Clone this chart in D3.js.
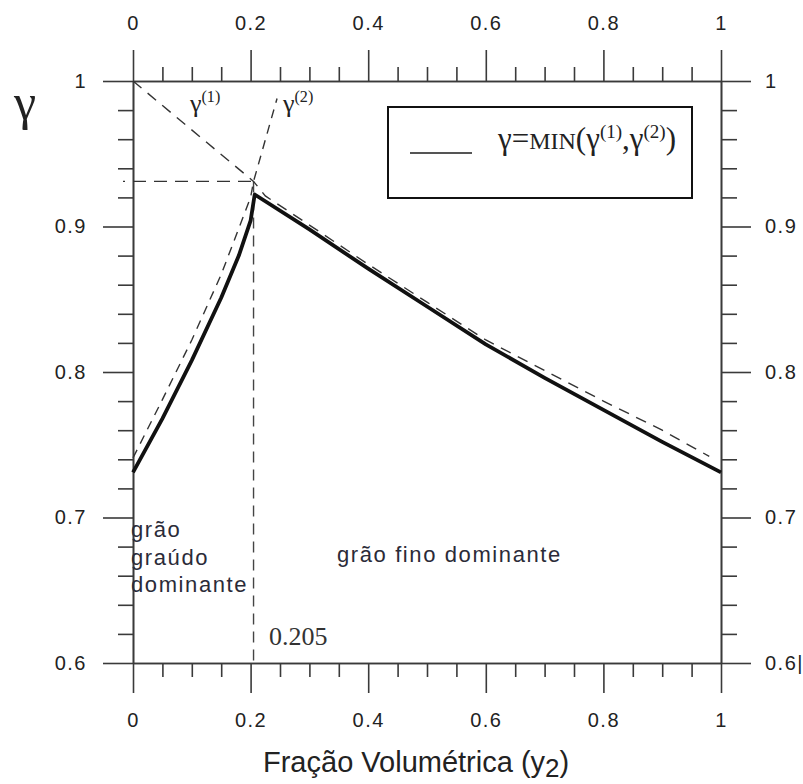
<!DOCTYPE html>
<html>
<head>
<meta charset="utf-8">
<script src="https://cdn.jsdelivr.net/npm/d3@7"></script>
<style>
  html, body { margin: 0; padding: 0; background: #fff; }
  svg { display: block; }
</style>
</head>
<body>
<svg id="chart" width="803" height="784"></svg>
<script>
// ── Data ──
const xMajor = [0, 0.2, 0.4, 0.6, 0.8, 1];
const yMajor = [0.6, 0.7, 0.8, 0.9, 1];

// γ = MIN(γ(1), γ(2)) — solid
const minX = [0, 0.05, 0.1, 0.15, 0.18, 0.2, 0.207, 0.3, 0.4, 0.5, 0.6, 0.7, 0.8, 0.9, 1];
const minY = [0.731, 0.768, 0.808, 0.851, 0.88, 0.904, 0.922, 0.898, 0.871, 0.845, 0.819, 0.796, 0.774, 0.752, 0.731];

// γ(1) — dashed, coarse grain dominant branch
const g1X = [0, 0.205, 0.225, 0.3, 0.4, 0.5, 0.6, 0.7, 0.8, 0.9, 0.98];
const g1Y = [1, 0.931, 0.921, 0.901, 0.874, 0.848, 0.822, 0.801, 0.780, 0.760, 0.742];

// γ(2) — dashed, fine grain dominant branch
const g2X = [0, 0.05, 0.1, 0.15, 0.2, 0.205, 0.245];
const g2Y = [0.741, 0.781, 0.822, 0.867, 0.92, 0.931, 0.988];

// transition point
const critX = 0.205;
const critY = 0.931;

// ── Layout ──
const svg = d3.select('#chart');
const x = d3.scaleLinear().domain([0, 1]).range([133, 721]);
const y = d3.scaleLinear().domain([0.6, 1]).range([663, 81]);

const axisColor = '#3a3a3a';
const textColor = '#222';
const sans = '"Liberation Sans", Arial, sans-serif';
const serif = '"Liberation Serif", "Times New Roman", serif';

const xMinor = d3.range(0, 1.0001, 0.05).filter(v => !xMajor.some(m => Math.abs(m - v) < 1e-6));
const yMinor = d3.range(0.6, 1.0001, 0.02).filter(v => !yMajor.some(m => Math.abs(m - v) < 1e-6));

function styleAxis(g) {
  g.attr('font-family', sans).attr('font-size', 20).attr('fill', textColor);
  g.select('.domain').attr('stroke', axisColor).attr('stroke-width', 1.6);
  g.selectAll('.tick line').attr('stroke', axisColor).attr('stroke-width', 1.6);
  g.selectAll('.tick text').attr('fill', textColor).attr('letter-spacing', '1.5px');
}

const fmt = d => d3.format('~g')(d);

// ── Axes: major + minor ticks on all four sides ──
svg.append('g').attr('transform', 'translate(0,81)')
  .call(d3.axisTop(x).tickValues(xMajor).tickFormat(fmt).tickSize(31).tickSizeOuter(0).tickPadding(20))
  .call(styleAxis);
svg.append('g').attr('transform', 'translate(0,81)')
  .call(d3.axisTop(x).tickValues(xMinor).tickFormat('').tickSize(14).tickSizeOuter(0))
  .call(styleAxis);

svg.append('g').attr('transform', 'translate(0,663)')
  .call(d3.axisBottom(x).tickValues(xMajor).tickFormat(fmt).tickSize(30).tickSizeOuter(0).tickPadding(20))
  .call(styleAxis);
svg.append('g').attr('transform', 'translate(0,663)')
  .call(d3.axisBottom(x).tickValues(xMinor).tickFormat('').tickSize(14).tickSizeOuter(0))
  .call(styleAxis);

svg.append('g').attr('transform', 'translate(133,0)')
  .call(d3.axisLeft(y).tickValues(yMajor).tickFormat(fmt).tickSize(30).tickSizeOuter(0).tickPadding(16))
  .call(styleAxis);
svg.append('g').attr('transform', 'translate(133,0)')
  .call(d3.axisLeft(y).tickValues(yMinor).tickFormat('').tickSize(15).tickSizeOuter(0))
  .call(styleAxis);

svg.append('g').attr('transform', 'translate(721,0)')
  .call(d3.axisRight(y).tickValues(yMajor).tickFormat(d => Math.abs(d - 0.6) < 1e-6 ? '0.6|' : fmt(d))
    .tickSize(30).tickSizeOuter(0).tickPadding(14))
  .call(styleAxis);
svg.append('g').attr('transform', 'translate(721,0)')
  .call(d3.axisRight(y).tickValues(yMinor).tickFormat('').tickSize(16).tickSizeOuter(0))
  .call(styleAxis);

// ── Reference dashes at the transition point ──
svg.append('line')
  .attr('x1', x(0) - 10).attr('x2', x(critX)).attr('y1', y(critY)).attr('y2', y(critY))
  .attr('stroke', '#333').attr('stroke-width', 1.4).attr('stroke-dasharray', '2,8,13,8,13,8,13,8,13,8,13,8,13,8');
svg.append('line')
  .attr('x1', x(critX)).attr('x2', x(critX)).attr('y1', y(critY)).attr('y2', y(0.6))
  .attr('stroke', '#444').attr('stroke-width', 1.4).attr('stroke-dasharray', '11,7');

// ── Curves ──
const line = d3.line().x(d => x(d[0])).y(d => y(d[1]));

svg.append('path')
  .attr('d', line(d3.zip(g1X, g1Y)))
  .attr('fill', 'none').attr('stroke', '#333').attr('stroke-width', 1.4)
  .attr('stroke-dasharray', '11,8');

svg.append('path')
  .attr('d', line(d3.zip(g2X, g2Y)))
  .attr('fill', 'none').attr('stroke', '#333').attr('stroke-width', 1.4)
  .attr('stroke-dasharray', '9,7');

svg.append('path')
  .attr('d', line(d3.zip(minX, minY)))
  .attr('fill', 'none').attr('stroke', '#111').attr('stroke-width', 3.8)
  .attr('stroke-linejoin', 'round');

// ── Curve labels ──
function gammaLabel(px, py, sup, size) {
  const t = svg.append('text').attr('x', px).attr('y', py)
    .attr('font-family', serif).attr('font-size', size).attr('fill', textColor);
  t.append('tspan').text('γ');
  t.append('tspan').attr('font-size', size * 0.62).attr('dy', -size * 0.38).text(sup);
  return t;
}
gammaLabel(190, 112, '(1)', 26);
gammaLabel(283, 112, '(2)', 26);

// big axis symbol
svg.append('text').attr('x', 14).attr('y', 119)
  .attr('font-family', serif).attr('font-size', 50).attr('fill', textColor)
  .text('γ');

// ── Legend ──
svg.append('rect')
  .attr('x', 388).attr('y', 107).attr('width', 304).attr('height', 91)
  .attr('fill', '#fff').attr('stroke', '#111').attr('stroke-width', 2);
svg.append('line')
  .attr('x1', 410).attr('x2', 472).attr('y1', 153).attr('y2', 153)
  .attr('stroke', '#555').attr('stroke-width', 2);

const leg = svg.append('text').attr('x', 498).attr('y', 149)
  .attr('font-family', serif).attr('font-size', 31).attr('fill', textColor);
leg.append('tspan').text('γ=');
leg.append('tspan').attr('font-size', 24).text('MIN');
leg.append('tspan').text('(γ');
leg.append('tspan').attr('font-size', 19).attr('dy', -11).text('(1)');
leg.append('tspan').attr('dy', 11).text(',γ');
leg.append('tspan').attr('font-size', 19).attr('dy', -11).text('(2)');
leg.append('tspan').attr('dy', 11).text(')');

// ── Region annotations ──
const regionStyle = t => t.attr('font-family', sans).attr('font-size', 22)
  .attr('fill', '#2b2b38').attr('letter-spacing', '1.6px');

const coarse = ['grão', 'graúdo', 'dominante'];
coarse.forEach((s, i) => {
  svg.append('text').attr('x', 131).attr('y', 537 + i * 27.5).text(s).call(regionStyle);
});
svg.append('text').attr('x', 337).attr('y', 562).text('grão fino dominante').call(regionStyle);

svg.append('text').attr('x', 269).attr('y', 645)
  .attr('font-family', serif).attr('font-size', 26).attr('fill', '#333')
  .text(String(critX));

// ── Axis title ──
const title = svg.append('text').attr('x', 263).attr('y', 772)
  .attr('font-family', sans).attr('font-size', 29).attr('fill', textColor);
title.append('tspan').text('Fração Volumétrica (y');
title.append('tspan').attr('font-size', 26).attr('dy', 5).text('2');
title.append('tspan').attr('dy', -5).text(')');
</script>
</body>
</html>
